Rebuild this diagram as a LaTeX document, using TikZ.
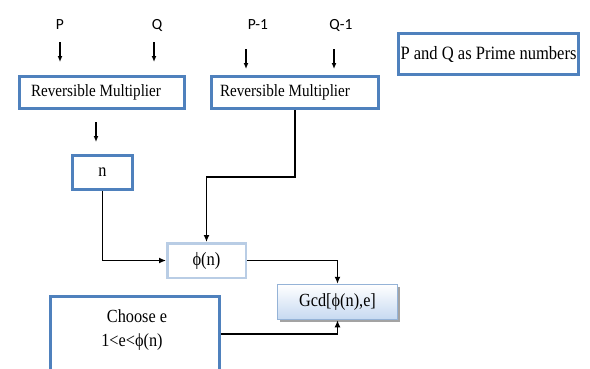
\documentclass[tikz,border=0pt]{standalone}
\usepackage{fontspec}
\setmainfont[FakeStretch=0.88]{Liberation Serif}
\newfontfamily\lblfont{Carlito}
\usetikzlibrary{arrows.meta,shadows}
\definecolor{boxblue}{HTML}{4F81BD}
\definecolor{lightblue}{HTML}{B9CDE5}
\definecolor{gcdborder}{HTML}{95B3D7}
\definecolor{gcdfill}{HTML}{C6D9F1}
\tikzset{
  bluebox/.style={draw=boxblue, line width=3pt, fill=white, inner sep=0pt, font=\fontsize{17.2}{20}\selectfont},
  phibox/.style={draw=lightblue, line width=2.5pt, fill=white, inner sep=0pt, font=\fontsize{18.8}{20}\selectfont},
  gcdbox/.style={draw=gcdborder, line width=1.5pt, top color=white, bottom color=gcdfill, inner sep=0pt,
     font=\fontsize{18.5}{20}\selectfont, drop shadow={shadow xshift=2.5pt, shadow yshift=-2.5pt, fill=black!45, opacity=0.8}},
  lbl/.style={font=\lblfont\fontsize{15.5}{17}\selectfont, inner sep=0pt},
  txt/.style={font=\fontsize{18.5}{20}\selectfont, inner sep=0pt},
  arr/.style={line width=1.3pt, -{Latex[length=6pt,width=5pt]}},
  conn/.style={line width=1.3pt, -{Latex[length=7pt,width=6pt]}}
}
\begin{document}
\begin{tikzpicture}[x=1pt,y=1pt]
\clip (0,0) rectangle (590,-368);
\fill[white] (0,0) rectangle (590,-368);
% labels
\node[lbl] (P) at (60,-25) {P};
\node[lbl] (Q) at (157,-25) {Q};
\node[lbl] (P1) at (258,-25) {P-1};
\node[lbl] (Q1) at (341,-25) {Q-1};
% boxes
\node[bluebox, minimum width=165pt, minimum height=32pt] (rm1) at (102,-92.5) {\hspace*{-12pt}Reversible Multiplier};
\node[bluebox, minimum width=167pt, minimum height=32pt] (rm2) at (295,-92.5) {\hspace*{-20pt}Reversible Multiplier};
\node[bluebox, minimum width=180pt, minimum height=41pt, font=\fontsize{18.8}{21}\selectfont] (note) at (488.5,-54) {P and Q as Prime numbers};
\node[bluebox, minimum width=60pt, minimum height=34pt, font=\fontsize{18.5}{20}\selectfont] (n) at (102.5,-172.5) {n};
\node[phibox, minimum width=78.5pt, minimum height=34.5pt] (phi) at (206.5,-260.5) {ϕ(n)};
\node[gcdbox, minimum width=120pt, minimum height=35pt] (gcd) at (337.5,-302) {Gcd[ϕ(n),e]};
\node[bluebox, minimum width=169pt, minimum height=100pt] (choose) at (135,-346.5) {};
\node[txt] (chooseA) at (137,-316) {Choose e};
\node[txt] (chooseB) at (132,-342) {1<e<ϕ(n)};
% free input arrows
\coordinate (pa) at (60,-42); \coordinate (pb) at (60,-62);
\coordinate (qa) at (154,-42); \coordinate (qb) at (154,-62);
\coordinate (p1a) at (246,-49); \coordinate (p1b) at (246,-69);
\coordinate (q1a) at (334,-49); \coordinate (q1b) at (334,-69);
\coordinate (ma) at (96,-122); \coordinate (mb) at (96,-142);
\draw[arr] (pa) -- (pb);
\draw[arr] (qa) -- (qb);
\draw[arr] (p1a) -- (p1b);
\draw[arr] (q1a) -- (q1b);
\draw[arr] (ma) -- (mb);
% connectors
\draw[conn] (n.south) |- (phi.west);
\draw[conn] (rm2.south) -- ++(0,-67) -| (phi.north);
\draw[conn] (phi.east) -| (gcd.north);
\coordinate (ce) at (choose.east |- 0,-334);
\draw[conn] (ce) -| (gcd.south);
\end{tikzpicture}
\end{document}
